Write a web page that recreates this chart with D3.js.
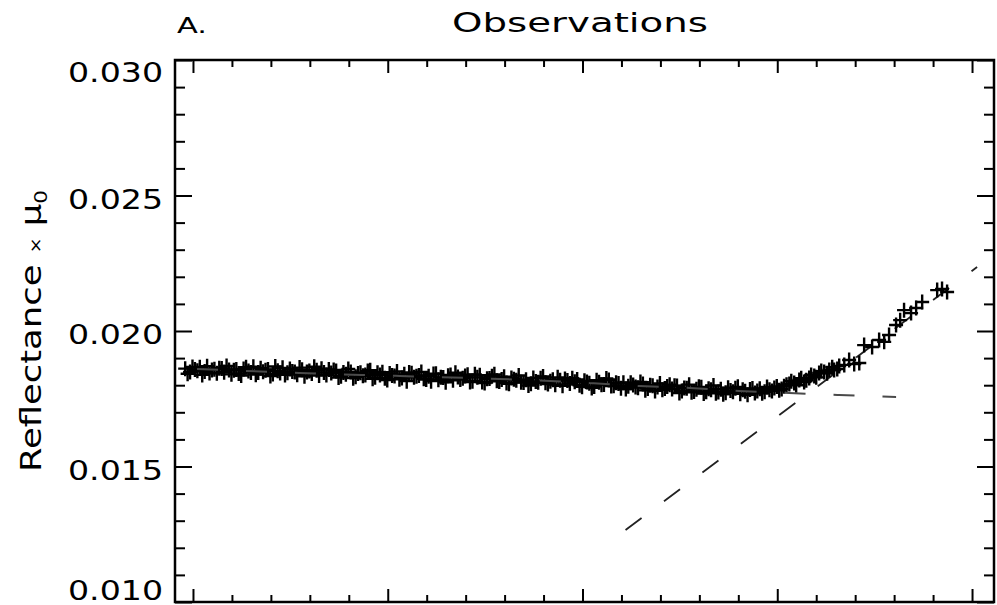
<!DOCTYPE html>
<html>
<head>
<meta charset="utf-8">
<script src="https://cdn.jsdelivr.net/npm/d3@7"></script>
<style>
  body { margin: 0; background: #fff; }
  text { font-family: "DejaVu Sans", sans-serif; fill: #000; }
</style>
</head>
<body>
<svg id="chart" width="997" height="605"></svg>
<script>
"use strict";

// Data: observed reflectance x mu0, two interleaved runs of channels
var bandStart = 96;     // first channel of run 1
var bandStart2 = 97.25; // first channel of run 2
var bandStep = 2.5;     // channel spacing inside a run
var bandValues = [
  0.01861, 0.01849, 0.01858, 0.01866, 0.01851, 0.01845, 0.01859, 0.01863, 0.01848, 0.01856,
  0.01855, 0.01843, 0.01860, 0.01852, 0.01868, 0.01847, 0.01850, 0.01858, 0.01841, 0.01853,
  0.01864, 0.01846, 0.01851, 0.01839, 0.01857, 0.01849, 0.01843, 0.01855, 0.01861, 0.01838,
  0.01845, 0.01852, 0.01833, 0.01840, 0.01849, 0.01831, 0.01846, 0.01838, 0.01855, 0.01829,
  0.01838, 0.01826, 0.01843, 0.01834, 0.01822, 0.01840, 0.01847, 0.01829, 0.01836, 0.01824,
  0.01833, 0.01841, 0.01820, 0.01828, 0.01835, 0.01818, 0.01830, 0.01826, 0.01839, 0.01815,
  0.01829, 0.01812, 0.01824, 0.01833, 0.01816, 0.01821, 0.01808, 0.01827, 0.01818, 0.01811,
  0.01820, 0.01805, 0.01814, 0.01826, 0.01809, 0.01815, 0.01802, 0.01818, 0.01823, 0.01806,
  0.01813, 0.01800, 0.01816, 0.01807, 0.01795, 0.01811, 0.01803, 0.01819, 0.01798, 0.01806,
  0.01809, 0.01796, 0.01801, 0.01791, 0.01804, 0.01788, 0.01798, 0.01793, 0.01783, 0.01795,
  0.01786, 0.01797, 0.01779, 0.01789, 0.01774, 0.01785, 0.01792, 0.01776, 0.01783, 0.01770,
  0.01785, 0.01772, 0.01780, 0.01789, 0.01768, 0.01778, 0.01784, 0.01771, 0.01787, 0.01776,
  0.01783, 0.01790, 0.01781, 0.01796
];
var bandValues2 = [
  0.01842, 0.01867, 0.01853, 0.01838, 0.01870, 0.01856, 0.01844, 0.01862, 0.01871, 0.01840,
  0.01858, 0.01836, 0.01866, 0.01847, 0.01839, 0.01863, 0.01855, 0.01834, 0.01869, 0.01845,
  0.01838, 0.01860, 0.01849, 0.01865, 0.01833, 0.01852, 0.01868, 0.01836, 0.01847, 0.01858,
  0.01856, 0.01828, 0.01847, 0.01860, 0.01826, 0.01843, 0.01835, 0.01852, 0.01824, 0.01846,
  0.01848, 0.01819, 0.01836, 0.01851, 0.01827, 0.01815, 0.01844, 0.01833, 0.01849, 0.01821,
  0.01815, 0.01842, 0.01829, 0.01811, 0.01838, 0.01846, 0.01821, 0.01834, 0.01812, 0.01840,
  0.01837, 0.01808, 0.01825, 0.01840, 0.01814, 0.01831, 0.01805, 0.01822, 0.01836, 0.01810,
  0.01799, 0.01827, 0.01811, 0.01832, 0.01804, 0.01820, 0.01829, 0.01798, 0.01817, 0.01826,
  0.01821, 0.01794, 0.01812, 0.01790, 0.01818, 0.01802, 0.01825, 0.01797, 0.01809, 0.01789,
  0.01786, 0.01809, 0.01793, 0.01812, 0.01781, 0.01800, 0.01779, 0.01806, 0.01788, 0.01802,
  0.01798, 0.01771, 0.01790, 0.01802, 0.01777, 0.01794, 0.01769, 0.01787, 0.01799, 0.01775,
  0.01767, 0.01791, 0.01776, 0.01794, 0.01783, 0.01765, 0.01788, 0.01779, 0.01770, 0.01793,
  0.01779, 0.01795, 0.01786, 0.01802
];
var tailChannels = [406.2, 407.2, 408.7, 409.7, 411.3, 412.3, 413.8, 414.9, 416.4, 417.4,
                    419.0, 420.0, 421.5, 422.6, 424.1, 425.6, 426.7, 428.2, 429.2, 430.8,
                    431.8, 434.4, 436.9, 439.5, 442.1, 444.6, 448.7, 452.3, 454.9, 457.4,
                    461.0, 463.1, 465.1, 468.7, 471.3, 474.4, 482.1, 484.6, 487.2];
var tailValues = [0.01804, 0.01815, 0.01808, 0.01800, 0.01819, 0.01826, 0.01812, 0.01818, 0.01827, 0.01838,
                  0.01834, 0.01829, 0.01845, 0.01852, 0.01849, 0.01844, 0.01856, 0.01866, 0.01856, 0.01860,
                  0.01871, 0.01875, 0.01893, 0.01878, 0.01882, 0.01948, 0.01941, 0.01967, 0.01960, 0.01985,
                  0.02022, 0.02040, 0.02077, 0.02066, 0.02085, 0.02107, 0.02151, 0.02155, 0.02144];

// Dashed curves
var trendChannels = [102.1, 154.9, 206.2, 257.4, 303.6, 329.2, 354.9, 380.5, 406.2, 431.8, 461.0];
var trendValues = [0.01860, 0.01845, 0.01834, 0.01823, 0.01808, 0.01797, 0.01790, 0.01779, 0.01771, 0.01764, 0.01756];
var slopeChannels = [322.1, 502.6];
var slopeValues = [0.01266, 0.02236];

// Axes
var xDomain = [90.77, 511.28];
var xMajorTicks = [100, 200, 300, 400, 500];
var xMinorTicks = [120, 140, 160, 180, 220, 240, 260, 280, 320, 340, 360, 380, 420, 440, 460, 480];
var yDomain = [0.010, 0.030];
var yMajorTicks = [0.010, 0.015, 0.020, 0.025, 0.030];
var yMinorTicks = [0.011, 0.012, 0.013, 0.014, 0.016, 0.017, 0.018, 0.019,
                   0.021, 0.022, 0.023, 0.024, 0.026, 0.027, 0.028, 0.029];

var plotLeft = 175, plotRight = 994, plotTop = 60, plotBottom = 602;

var svg = d3.select("#chart");
var x = d3.scaleLinear().domain(xDomain).range([plotLeft, plotRight]);
var y = d3.scaleLinear().domain(yDomain).range([plotBottom, plotTop]);

var points = bandValues.map(function(v, i) { return [bandStart + bandStep * i, v]; });
bandValues2.forEach(function(v, i) { points.push([bandStart2 + bandStep * i, v]); });
tailValues.forEach(function(v, i) { points.push([tailChannels[i], v]); });

var line = d3.line().x(function(d) { return x(d[0]); }).y(function(d) { return y(d[1]); });

// steep dashed line, sits under the markers
svg.append("path")
   .datum(slopeChannels.map(function(c, i) { return [c, slopeValues[i]]; }))
   .attr("d", line)
   .attr("fill", "none")
   .attr("stroke", "#222")
   .attr("stroke-width", 1.8)
   .attr("stroke-dasharray", "20,28");

// plus markers
svg.append("g").selectAll("path")
   .data(points)
   .join("path")
   .attr("transform", function(d) { return "translate(" + x(d[0]) + "," + y(d[1]) + ")"; })
   .attr("d", "M-7,0H7M0,-7.5V7.5")
   .attr("stroke", "#000")
   .attr("stroke-width", 2.4)
   .attr("fill", "none");

// flat dashed trend, drawn on top
svg.append("path")
   .datum(trendChannels.map(function(c, i) { return [c, trendValues[i]]; }))
   .attr("d", line.curve(d3.curveMonotoneX))
   .attr("fill", "none")
   .attr("stroke", "#4a4a4a")
   .attr("stroke-width", 2)
   .attr("stroke-dasharray", "21,28");

// frame ticks, all pointing inward
function ticks(axis, pos, vals, len, labels) {
  var g = svg.append("g").attr("transform", pos)
             .call(axis.tickValues(vals).tickSize(-len).tickPadding(12)
                       .tickFormat(labels ? d3.format(".3f") : ""));
  g.select(".domain").remove();
  g.selectAll("line").attr("stroke", "#000").attr("stroke-width", 2);
  return g;
}
ticks(d3.axisTop(x), "translate(0," + plotTop + ")", xMajorTicks, 13, false);
ticks(d3.axisTop(x), "translate(0," + plotTop + ")", xMinorTicks, 7, false);
ticks(d3.axisBottom(x), "translate(0," + plotBottom + ")", xMajorTicks, 13, false);
ticks(d3.axisBottom(x), "translate(0," + plotBottom + ")", xMinorTicks, 7, false);
ticks(d3.axisRight(y), "translate(" + plotRight + ",0)", yMajorTicks, 17, false);
ticks(d3.axisRight(y), "translate(" + plotRight + ",0)", yMinorTicks, 10, false);
ticks(d3.axisLeft(y), "translate(" + plotLeft + ",0)", yMinorTicks, 10, false);
var yAxis = ticks(d3.axisLeft(y), "translate(" + plotLeft + ",0)", yMajorTicks, 17, true);
// end labels are pulled inside the frame, the rest sit a little low
yAxis.selectAll("text")
     .attr("font-family", "DejaVu Sans, sans-serif")
     .attr("font-size", 27)
     .attr("fill", "#000")
     .attr("y", function(d) { return d === 0.030 ? 13 : (d === 0.010 ? -11 : 4); })
     .attr("textLength", 95)
     .attr("lengthAdjust", "spacingAndGlyphs");

svg.append("rect")
   .attr("x", plotLeft).attr("y", plotTop)
   .attr("width", plotRight - plotLeft).attr("height", plotBottom - plotTop)
   .attr("fill", "none").attr("stroke", "#000").attr("stroke-width", 2.5);

// titles
svg.append("text")
   .attr("x", 177).attr("y", 33)
   .attr("font-size", 21)
   .attr("textLength", 30)
   .attr("lengthAdjust", "spacingAndGlyphs")
   .text("A.");

svg.append("text")
   .attr("x", 580).attr("y", 32)
   .attr("text-anchor", "middle")
   .attr("font-size", 26)
   .attr("textLength", 256)
   .attr("lengthAdjust", "spacingAndGlyphs")
   .text("Observations");

var ylab = svg.append("text")
   .attr("transform", "translate(41,331) rotate(-90)")
   .attr("text-anchor", "middle")
   .attr("font-size", 28)
   .attr("textLength", 282)
   .attr("lengthAdjust", "spacingAndGlyphs");
ylab.append("tspan").text("Reflectance ");
ylab.append("tspan").attr("font-size", 15).text("\u00d7");
ylab.append("tspan").text(" \u03bc");
ylab.append("tspan").attr("font-size", 17).attr("dy", 6).text("0");
</script>
</body>
</html>
